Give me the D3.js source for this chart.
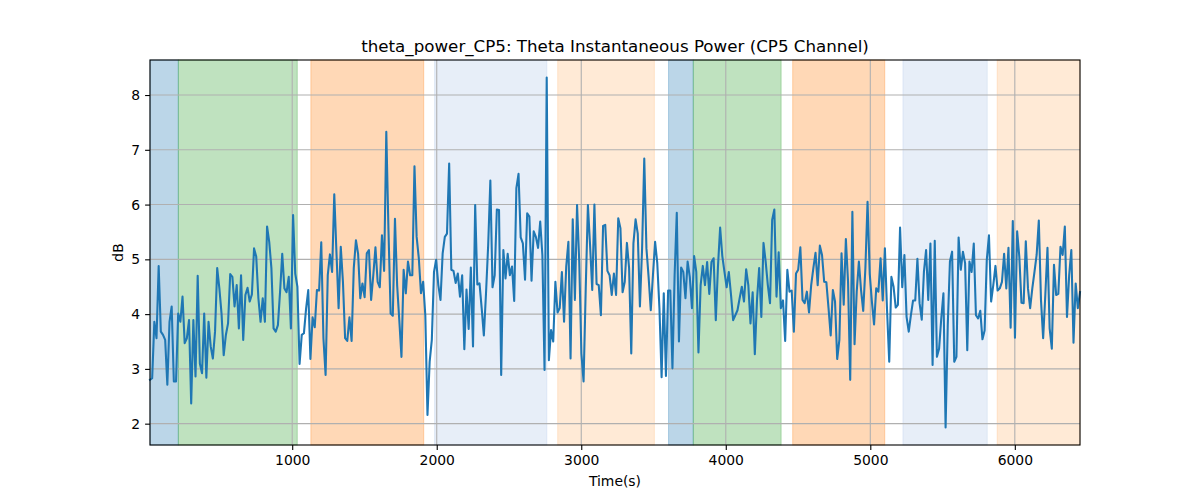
<!DOCTYPE html>
<html>
<head>
<meta charset="utf-8">
<script src="https://cdn.jsdelivr.net/npm/d3@7"></script>
<style>
  html, body { margin: 0; padding: 0; background: #fff; }
  svg text { font-family: "DejaVu Sans", sans-serif; fill: #000; }
</style>
</head>
<body>
<svg id="chart" width="1200" height="500"></svg>
<script>
// ---- data ----
const startTime = 16;       // s, first sample
const sampleInterval = 15;  // s between samples
const power = [
  2.80, 2.83, 3.86, 3.56, 4.88, 3.68, 3.62, 3.53, 2.71, 3.86,
  4.14, 2.77, 2.77, 4.01, 3.86, 4.32, 3.47, 3.56, 3.89, 2.37,
  3.89, 2.86, 4.70, 3.10, 2.92, 4.01, 2.84, 3.86, 3.41, 3.19,
  3.68, 4.84, 4.47, 4.01, 3.25, 3.62, 3.83, 4.73, 4.68, 4.14,
  4.53, 3.74, 4.71, 3.53, 4.35, 4.48, 4.23, 4.36, 5.20, 5.05,
  4.29, 3.86, 4.29, 3.86, 5.60, 5.32, 4.84, 3.74, 3.68, 3.80,
  4.41, 5.10, 4.47, 4.40, 4.68, 3.74, 5.81, 4.74, 4.50, 3.09,
  3.62, 3.65, 4.10,
  4.44, 3.18, 3.94, 3.76, 4.44, 4.43, 5.31, 3.56, 2.89, 4.71,
  5.09, 4.77, 6.19, 5.14, 4.11, 5.23, 4.59, 3.56, 3.51, 3.94,
  3.51, 4.84, 5.35, 5.10, 4.29, 4.56, 4.31, 5.11, 5.17, 4.26,
  4.71, 5.22, 4.59, 4.49, 5.44, 4.79, 7.33, 5.54, 4.01, 3.97,
  5.74, 4.53, 3.89, 3.22, 4.81, 4.38, 4.96, 4.71, 4.71, 6.70,
  5.41, 5.02, 4.38, 4.59, 3.98, 2.16, 3.13, 3.53, 4.77, 4.99,
  4.53, 4.26, 5.11, 5.41, 5.47, 6.75, 4.81, 4.79, 4.57, 4.74,
  4.32,
  4.71, 3.36, 4.45, 3.73, 4.85, 3.41, 5.99, 4.54, 4.56, 4.11,
  3.61, 4.38, 5.26, 6.44, 4.49, 4.71, 5.91, 5.90, 2.89, 5.17,
  4.65, 5.10, 4.71, 4.87, 4.24, 6.30, 6.56, 5.40, 5.29, 4.63,
  5.84, 5.78, 4.61, 5.51, 5.41, 5.21, 5.69, 5.08, 2.98, 8.32,
  3.16, 3.71, 3.50, 4.59, 4.03, 4.11, 4.77, 3.86, 4.87, 5.32,
  3.19, 5.73, 4.26, 5.99, 4.96, 3.28, 2.77, 4.47, 5.99, 5.26,
  4.44, 6.00, 4.55, 4.53, 3.98, 5.61, 5.63, 4.79, 4.71, 4.35,
  4.74,
  4.35, 5.75, 5.57, 4.40, 4.59, 5.30, 4.84, 3.28, 5.29, 5.73,
  5.47, 4.14, 5.20, 6.84, 5.20, 4.68, 4.07, 4.71, 5.32, 4.93,
  4.11, 2.85, 4.38, 2.87, 4.43, 4.43, 3.01, 4.71, 5.85, 3.50,
  4.85, 4.77, 4.29, 4.96, 4.68, 4.11, 5.06, 4.77, 3.30, 4.53,
  4.88, 4.53, 4.95, 4.37, 4.95, 5.02, 3.89, 4.87, 5.58, 5.06,
  4.77, 4.49, 4.77, 4.36, 3.89, 3.98, 4.07, 4.29, 4.50, 4.23,
  4.82, 4.53, 3.83, 4.40, 3.27, 4.26, 4.84, 3.95, 5.30, 4.96,
  4.53, 4.20,
  5.72, 5.91, 4.32, 5.13, 4.11, 4.25, 3.51, 4.81, 4.41, 4.43,
  3.68, 4.74, 4.81, 5.22, 4.26, 4.20, 4.41, 4.03, 4.53, 4.84,
  5.12, 4.53, 5.25, 5.08, 4.59, 4.58, 4.11, 3.61, 4.44, 4.23,
  3.18, 3.53, 5.11, 4.17, 5.37, 4.59, 2.80, 5.87, 3.45, 4.41,
  4.96, 4.44, 4.06, 4.84, 6.05, 4.74, 4.23, 3.81, 4.47, 4.41,
  5.02, 4.25, 5.20, 4.06, 3.13, 4.68, 4.50, 4.12, 4.17, 5.58,
  4.49, 5.08, 3.95, 3.68, 3.98, 4.25, 4.25, 5.01, 4.20, 3.90,
  4.77,
  5.17, 4.26, 5.29, 3.07, 5.34, 3.22, 3.37, 3.92, 4.38, 1.93,
  3.80, 4.96, 5.14, 3.13, 3.22, 5.40, 4.81, 5.14, 4.93, 3.34,
  4.96, 4.77, 5.29, 3.98, 3.92, 4.06, 3.54, 3.70, 4.99, 5.44,
  4.23, 4.53, 4.88, 4.43, 4.47, 4.59, 5.10, 4.47, 5.21, 3.75,
  5.70, 3.57, 5.51, 5.05, 4.21, 4.20, 5.33, 4.47, 4.11, 4.47,
  4.77, 5.08, 5.71, 4.26, 3.56, 4.35, 5.21, 3.74, 3.37, 4.90,
  4.35, 4.37, 5.23, 5.08, 5.60, 3.95, 4.71, 5.17, 3.48, 4.56,
  4.11, 4.40
];
const times = power.map((_, i) => startTime + i * sampleInterval);

// shaded segments
const spanStart = [16, 212, 1129, 1985, 2837, 3604, 3775, 4463, 5226, 5878];
const spanEnd   = [212, 1035, 1910, 2762, 3506, 3775, 4383, 5100, 5809, 6451];
const spanColor = ["#1f77b4", "#2ca02c", "#ff7f0e", "#aec7e8", "#ffbb78",
                   "#1f77b4", "#2ca02c", "#ff7f0e", "#aec7e8", "#ffbb78"];

const xTicks = [1000, 2000, 3000, 4000, 5000, 6000];
const yTicks = [2, 3, 4, 5, 6, 7, 8];
const titleText = "theta_power_CP5: Theta Instantaneous Power (CP5 Channel)";
const xLabel = "Time(s)";
const yLabel = "dB";

// ---- layout ----
const L = 150, R = 1080, T = 60, B = 445;
const svg = d3.select("#chart");

const x = d3.scaleLinear().domain([times[0], times[times.length - 1]]).range([L, R]);
const yMin = d3.min(power), yMax = d3.max(power), yPad = (yMax - yMin) * 0.05;
const y = d3.scaleLinear().domain([yMin - yPad, yMax + yPad]).range([B, T]);

// spans
svg.append("g").selectAll("rect").data(spanStart).join("rect")
  .attr("x", (d) => x(d))
  .attr("width", (d, i) => x(spanEnd[i]) - x(d))
  .attr("y", T).attr("height", B - T)
  .attr("fill", (d, i) => spanColor[i]).attr("fill-opacity", 0.3)
  .attr("stroke", (d, i) => spanColor[i]).attr("stroke-opacity", 0.3).attr("stroke-width", 1);

// grid
const grid = svg.append("g").attr("stroke", "#b0b0b0").attr("stroke-width", 1.1);
grid.selectAll(".gx").data(xTicks).join("line")
  .attr("x1", (d) => x(d)).attr("x2", (d) => x(d))
  .attr("y1", T).attr("y2", B);
grid.selectAll(".gy").data(yTicks).join("line")
  .attr("y1", (d) => y(d)).attr("y2", (d) => y(d))
  .attr("x1", L).attr("x2", R);

// line
svg.append("path")
  .datum(power)
  .attr("fill", "none")
  .attr("stroke", "#1f77b4")
  .attr("stroke-width", 2.08)
  .attr("stroke-linejoin", "round")
  .attr("stroke-linecap", "square")
  .attr("d", d3.line().x((d, i) => x(times[i])).y((d) => y(d)));

// axes
const xAxis = d3.axisBottom(x).tickValues(xTicks).tickSize(4.9).tickPadding(4.9).tickFormat(d3.format("d"));
const yAxis = d3.axisLeft(y).tickValues(yTicks).tickSize(4.9).tickPadding(4.9).tickFormat(d3.format("d"));
const gx = svg.append("g").attr("transform", `translate(0,${B})`).call(xAxis);
const gy = svg.append("g").attr("transform", `translate(${L},0)`).call(yAxis);
[gx, gy].forEach((g) => {
  g.select(".domain").remove();
  g.selectAll(".tick line").attr("stroke", "#000").attr("stroke-width", 1.1);
  g.selectAll(".tick text").attr("font-size", "13.9px").attr("font-family", "DejaVu Sans");
});

// frame
svg.append("rect").attr("x", L).attr("y", T).attr("width", R - L).attr("height", B - T)
  .attr("fill", "none").attr("stroke", "#000").attr("stroke-width", 1.1);

// labels
svg.append("text").attr("x", (L + R) / 2).attr("y", 52).attr("text-anchor", "middle")
  .attr("font-size", "16.7px").text(titleText);
svg.append("text").attr("x", (L + R) / 2).attr("y", 486).attr("text-anchor", "middle")
  .attr("font-size", "13.9px").text(xLabel);
svg.append("text").attr("transform", `translate(123,${(T + B) / 2}) rotate(-90)`)
  .attr("text-anchor", "middle").attr("font-size", "13.9px").text(yLabel);
</script>
</body>
</html>
